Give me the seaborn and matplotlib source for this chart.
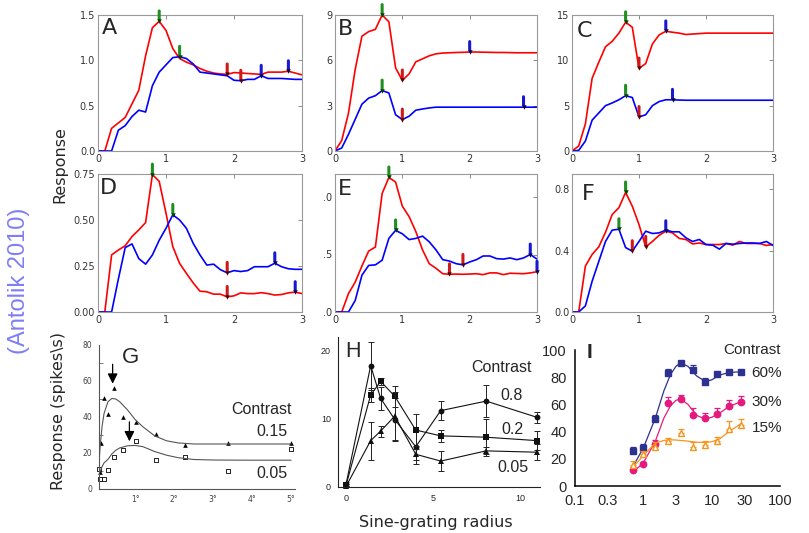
import numpy as np
import pandas as pd
import matplotlib
matplotlib.use('Agg')
import matplotlib.pyplot as plt
import seaborn as sns

# ---------------- model panels A-F (stimulus radius, 0..3 in steps of 0.1)
radius = np.round(np.linspace(0, 3, 31), 1)

A_red = [0, 0, 0.25, 0.31, 0.37, 0.52, 0.67, 1.05, 1.36, 1.43, 1.33, 1.13, 1.02, 0.98, 0.95, 0.91,
         0.88, 0.86, 0.85, 0.845, 0.865, 0.86, 0.855, 0.85, 0.845, 0.87, 0.87, 0.87, 0.88, 0.86, 0.84]
A_blue = [0, 0, 0, 0.23, 0.28, 0.38, 0.45, 0.43, 0.72, 0.87, 0.95, 1.03, 1.04, 1.02, 0.96, 0.87,
          0.86, 0.85, 0.84, 0.83, 0.78, 0.775, 0.79, 0.79, 0.83, 0.80, 0.80, 0.80, 0.795, 0.79, 0.79]
A_marks = [(0.9, 'red', 'g'), (1.2, 'blue', 'g'), (1.9, 'red', 'r'), (2.1, 'blue', 'r'),
           (2.4, 'blue', 'b'), (2.8, 'red', 'b')]

B_red = [0, 0.7, 2.5, 5.4, 7.6, 7.9, 8.05, 9.0, 8.55, 5.5, 4.67, 5.1, 5.9, 6.1, 6.3, 6.43,
         6.48, 6.5, 6.52, 6.53, 6.55, 6.55, 6.54, 6.53, 6.52, 6.52, 6.51, 6.5, 6.5, 6.5, 6.5]
B_blue = [0, 0.2, 1.1, 2.1, 3.1, 3.5, 3.66, 4.0, 3.84, 2.4, 2.08, 2.3, 2.7, 2.78, 2.85, 2.9,
          2.9, 2.9, 2.9, 2.9, 2.9, 2.9, 2.9, 2.9, 2.9, 2.9, 2.9, 2.9, 2.9, 2.9, 2.9]
B_marks = [(0.7, 'red', 'g'), (1.0, 'red', 'r'), (2.0, 'red', 'b'),
           (0.7, 'blue', 'g'), (1.0, 'blue', 'r'), (2.8, 'blue', 'b')]

C_red = [0, 0.55, 3.0, 8.0, 9.8, 11.5, 12.1, 13.0, 14.2, 13.65, 9.1, 9.65, 11.8, 12.8, 13.2, 13.1,
         13.0, 12.85, 12.9, 12.95, 13.0, 13.0, 13.0, 13.0, 13.0, 13.0, 13.0, 13.0, 13.0, 13.0, 13.0]
C_blue = [0, 0.07, 1.1, 3.4, 4.2, 5.0, 5.3, 5.65, 6.1, 5.9, 3.75, 4.0, 5.0, 5.45, 5.65, 5.65,
          5.62, 5.6, 5.6, 5.6, 5.6, 5.6, 5.6, 5.6, 5.6, 5.6, 5.6, 5.6, 5.6, 5.6, 5.6]
C_marks = [(0.8, 'red', 'g'), (1.0, 'red', 'r'), (1.4, 'red', 'b'),
           (0.8, 'blue', 'g'), (1.0, 'blue', 'r'), (1.5, 'blue', 'b')]

D_red = [0, 0, 0.31, 0.337, 0.36, 0.41, 0.446, 0.486, 0.747, 0.71, 0.537, 0.355, 0.264, 0.21, 0.158, 0.113,
         0.11, 0.097, 0.097, 0.082, 0.088, 0.104, 0.1, 0.1, 0.105, 0.1, 0.092, 0.095, 0.104, 0.108, 0.1]
D_blue = [0, 0, 0, 0.18, 0.35, 0.37, 0.29, 0.26, 0.31, 0.39, 0.455, 0.528, 0.5, 0.455, 0.373, 0.31,
          0.255, 0.26, 0.23, 0.213, 0.225, 0.22, 0.225, 0.246, 0.246, 0.246, 0.265, 0.246, 0.235, 0.232, 0.232]
D_marks = [(0.8, 'red', 'g'), (1.1, 'blue', 'g'), (1.9, 'blue', 'r'), (1.9, 'red', 'r'),
           (2.6, 'blue', 'b'), (2.9, 'red', 'b')]

E_red = [0, 0, 0.16, 0.26, 0.4, 0.53, 0.565, 1.03, 1.17, 1.13, 0.92, 0.83, 0.7, 0.54, 0.42, 0.38,
         0.333, 0.328, 0.33, 0.328, 0.33, 0.333, 0.325, 0.34, 0.34, 0.325, 0.337, 0.335, 0.333, 0.34, 0.35]
E_blue = [0, 0, 0, 0.1, 0.32, 0.405, 0.41, 0.45, 0.64, 0.71, 0.68, 0.63, 0.64, 0.66, 0.61, 0.54,
          0.455, 0.443, 0.42, 0.41, 0.435, 0.455, 0.487, 0.487, 0.464, 0.46, 0.47, 0.455, 0.47, 0.5, 0.46]
E_marks = [(0.8, 'red', 'g'), (0.9, 'blue', 'g'), (1.7, 'red', 'r'), (1.9, 'blue', 'r'),
           (2.9, 'blue', 'b'), (3.0, 'red', 'b')]

F_red = [0, 0, 0.3, 0.375, 0.425, 0.52, 0.636, 0.68, 0.78, 0.69, 0.57, 0.425, 0.46, 0.5, 0.527, 0.516,
         0.48, 0.473, 0.444, 0.45, 0.44, 0.44, 0.44, 0.447, 0.436, 0.46, 0.447, 0.447, 0.447, 0.434, 0.44]
F_blue = [0, 0, 0.04, 0.2, 0.33, 0.46, 0.534, 0.54, 0.42, 0.397, 0.46, 0.527, 0.512, 0.516, 0.534, 0.523,
          0.523, 0.484, 0.46, 0.473, 0.44, 0.436, 0.41, 0.447, 0.442, 0.447, 0.45, 0.45, 0.447, 0.46, 0.434]
F_marks = [(0.8, 'red', 'g'), (0.7, 'blue', 'g'), (0.9, 'blue', 'r'), (1.1, 'red', 'r'), (1.4, 'red', 'b')]

# ---------------- G: cat data (degrees)
G_tri_x = [0.1, 0.12, 0.19, 0.29, 0.46, 0.68, 1.01, 1.52, 2.27, 3.38, 5.0]
G_tri_y = [9.3, 25.7, 50.4, 41.9, 55.9, 40, 37, 30.4, 24.6, 25.7, 25.5]
G_sq_x = [0.07, 0.1, 0.19, 0.29, 0.46, 0.68, 1.01, 1.52, 2.27, 3.38, 5.0]
G_sq_y = [10.9, 5.4, 5.4, 10.6, 17.8, 21.5, 26.5, 16.3, 18, 9.8, 22]
G_fit_x = [0.07, 0.1, 0.15, 0.2, 0.3, 0.4, 0.5, 0.6, 0.8, 1.0, 1.2, 1.5, 1.8, 2.1, 2.5, 3.0, 4.0, 5.0]
G_fit_hi = [14, 24, 35, 42, 48.5, 50.3, 50, 48.5, 44, 38.5, 34.5, 29.5, 26.8, 25.6, 25, 25, 25, 25]
G_fit_lo = [8, 10, 12.5, 14.5, 16.5, 19.5, 21.5, 22.8, 24, 24.2, 23.5, 20.8, 18.8, 17.4, 16.4, 16.1, 16, 16]
G_arrow_x = [0.42, 0.85]
G_arrow_y = [58.5, 26.5]

# ---------------- H: sine-grating radius vs response, three contrasts
H_x = [0, 1.41, 1.98, 2.79, 3.99, 5.42, 8.02, 10.95]
H_08 = [0.4, 17.8, 13.0, 9.9, 5.9, 11.2, 12.6, 10.2]
H_08_err = [0.3, 3.5, 1.7, 3.2, 2.5, 1.4, 2.3, 0.8]
H_02 = [0.25, 13.5, 15.5, 13.3, 8.35, 7.5, 7.3, 6.8]
H_02_err = [0.2, 1.0, 0.5, 1.5, 2.3, 0.9, 2.7, 1.4]
H_005 = [0.1, 6.8, 8.2, 10.4, 4.8, 3.8, 5.3, 5.1]
H_005_err = [0.1, 2.8, 0.8, 3.5, 0.8, 1.5, 0.5, 1.2]

# ---------------- I: log-radius, three contrasts
I_x = [0.7, 1.0, 1.5, 2.3, 3.5, 5.3, 8, 12, 18, 27]
I_60 = [26, 28.2, 49, 82.8, 90.2, 85.3, 76.7, 82, 84, 84]
I_60_err = [3, 2.5, 3, 3.5, 1.5, 4, 2.5, 1.5, 1.5, 1.5]
I_30 = [11.8, 16, 30.6, 60.8, 63.7, 52.2, 49.8, 53, 58.8, 62]
I_30_err = [2, 2, 3, 4.5, 3, 5.5, 4, 4, 4.5, 4]
I_15 = [15.4, 23.3, 28.4, 33, 39.2, 29, 30.1, 33.3, 42, 45]
I_15_err = [3, 2.5, 4, 2, 3, 3, 3, 3, 6, 4.5]
I_fit_x = [0.7, 1.0, 1.5, 2.0, 2.5, 3.0, 3.5, 4.5, 6, 8, 10, 13, 18, 27]
I_fit_60 = [14, 28, 50, 70, 82, 88, 90.5, 88, 81, 77, 78, 81.5, 83.5, 84]
I_fit_30 = [10, 17, 33, 50, 59, 63, 64, 60, 52, 49.3, 50.5, 53.5, 58.5, 62]
I_fit_15 = [13.5, 22.5, 31.5, 33.5, 34, 33.8, 33.5, 33, 32.2, 32, 32.5, 34.5, 40, 46]

sns.set_style('white')
plt.rcParams['font.family'] = ['DejaVu Sans']

W, Hpx = 809, 533
fig = plt.figure(figsize=(8.09, 5.33), dpi=100)


def box(x0, y0, x1, y1):
    return [x0 / W, 1 - y1 / Hpx, (x1 - x0) / W, (y1 - y0) / Hpx]


def ftxt(x, y, s, **kw):
    fig.text(x / W, 1 - y / Hpx, s, **kw)


# bar colour, dark tip colour
mark_col = {'g': ('#1f8f1f', '#0a3a0a'), 'r': ('#d01818', '#4a0808'), 'b': ('#1818d0', '#08084a')}

model_panels = [
    ('A', A_red, A_blue, A_marks, 1.5, [0, 0.5, 1.0, 1.5], ['0.0', '0.5', '1.0', '1.5'], (98, 15, 302, 151), (102, 18)),
    ('B', B_red, B_blue, B_marks, 9, [0, 3, 6, 9], ['0', '3', '6', '9'], (335, 15, 537, 151), (338, 19)),
    ('C', C_red, C_blue, C_marks, 15, [0, 5, 10, 15], ['0', '5', '10', '15'], (572, 15, 773, 151), (577, 21)),
    ('D', D_red, D_blue, D_marks, 0.75, [0, 0.25, 0.5, 0.75], ['0.00', '0.25', '0.50', '0.75'], (98, 174, 302, 312), (100, 178)),
    ('E', E_red, E_blue, E_marks, 1.2, [0, 0.5, 1.0], ['.0', '.5', '.0'], (335, 174, 537, 312), (338, 179)),
    ('F', F_red, F_blue, F_marks, 0.9, [0, 0.4, 0.8], ['0.0', '0.4', '0.8'], (572, 174, 773, 312), (582, 184)),
]

for letter, red, blue, marks, ytop, yt, ytl, rect, lpos in model_panels:
    ax = fig.add_axes(box(*rect))
    sns.lineplot(x=radius, y=red, ax=ax, color='#ff0000', lw=1.2)
    sns.lineplot(x=radius, y=blue, ax=ax, color='#0000ff', lw=1.2)
    curves = {'red': red, 'blue': blue}
    for xm, which, c in marks:
        ym = curves[which][int(round(xm * 10))]
        bar_c, tip_c = mark_col[c]
        ax.annotate('', xy=(xm, ym), xytext=(0, 7.5), textcoords='offset points',
                    arrowprops=dict(arrowstyle='-', color=bar_c, lw=2.2, shrinkA=0, shrinkB=1.2),
                    annotation_clip=False)
        ax.plot([xm], [ym], marker='v', markersize=3.2, color=tip_c, markeredgewidth=0,
                clip_on=False, zorder=5)
    ax.set_xlim(0, 3)
    ax.set_ylim(0, ytop)
    ax.set_xticks([0, 1, 2, 3])
    ax.set_xticklabels(['0', '1', '2', '3'])
    ax.set_yticks(yt)
    ax.set_yticklabels(ytl)
    ax.tick_params(direction='in', length=3, width=0.6, color='#777777', labelcolor='#333333',
                   labelsize=7, top=True, right=True, pad=2)
    for sp in ax.spines.values():
        sp.set_color('#999999')
        sp.set_linewidth(0.8)
    ax.set_xlabel('')
    ax.set_ylabel('')
    ftxt(lpos[0], lpos[1], letter, fontsize=16, ha='left', va='top')

# ---------------- panel G
axg = fig.add_axes(box(99, 345, 295, 489))
sns.lineplot(x=G_fit_x, y=G_fit_hi, ax=axg, color='#555555', lw=0.8)
sns.lineplot(x=G_fit_x, y=G_fit_lo, ax=axg, color='#555555', lw=0.8)
sns.scatterplot(x=G_tri_x, y=G_tri_y, ax=axg, marker='^', color='black', s=11, linewidth=0, clip_on=False)
sns.scatterplot(x=G_sq_x, y=G_sq_y, ax=axg, marker='s', color='white', edgecolor='black', s=9,
                linewidth=0.6, clip_on=False)
for xa, ya in zip(G_arrow_x, G_arrow_y):
    axg.annotate('', xy=(xa, ya), xytext=(0, 14), textcoords='offset points',
                 arrowprops=dict(arrowstyle='-|>,head_length=0.6,head_width=0.3', color='black',
                                 lw=0.9, shrinkA=0, shrinkB=0))
axg.set_xlim(0.07, 5.1)
axg.set_ylim(0, 80)
axg.set_yticks([0, 20, 40, 60, 80])
axg.set_yticks([10, 30, 50, 70], minor=True)
axg.set_xticks([1, 2, 3, 4, 5])
axg.set_xticklabels(['1°', '2°', '3°', '4°', '5°'])
axg.tick_params(which='major', length=0, labelsize=5.5, labelcolor='#444444', pad=5)
axg.tick_params(axis='x', which='major', length=2, direction='in', color='#666666', pad=4)
axg.tick_params(which='minor', left=True, length=3, direction='in', width=0.6, color='#666666')
sns.despine(ax=axg)
for sp in ['left', 'bottom']:
    axg.spines[sp].set_color('#555555')
    axg.spines[sp].set_linewidth(0.8)

# ---------------- panel H
axh = fig.add_axes(box(338, 337, 540, 487))
for yv, ev, mk in [(H_08, H_08_err, 'o'), (H_02, H_02_err, 's'), (H_005, H_005_err, '^')]:
    axh.errorbar(H_x, yv, yerr=ev, fmt='none', ecolor='#222222', elinewidth=0.7, capsize=2,
                 capthick=0.7, clip_on=False)
    sns.lineplot(x=H_x, y=yv, ax=axh, color='#111111', lw=0.8, marker=mk, markersize=4.2,
                 markeredgewidth=0, clip_on=False)
axh.set_xlim(-0.46, 11.1)
axh.set_ylim(0, 22)
axh.set_xticks([0, 5, 10])
axh.set_yticks([0, 10, 20])
axh.tick_params(direction='out', length=3, width=0.7, labelsize=6.5, pad=2)
sns.despine(ax=axh)
for sp in ['left', 'bottom']:
    axh.spines[sp].set_linewidth(0.8)
    axh.spines[sp].set_color('#222222')
for lab in axh.get_xticklabels() + axh.get_yticklabels():
    lab.set_fontfamily('Liberation Sans')

# ---------------- panel I
axi = fig.add_axes(box(575, 350, 780, 486))
I_series = [(I_fit_60, I_60, I_60_err, '#2d3190', 's', '#2d3190'),
            (I_fit_30, I_30, I_30_err, '#e6197e', 'o', '#e6197e'),
            (I_fit_15, I_15, I_15_err, '#f7941d', '^', 'white')]
for fit, yv, ev, col, mk, face in I_series:
    sns.lineplot(x=I_fit_x, y=fit, ax=axi, color=col, lw=0.9)
    axi.errorbar(I_x, yv, yerr=[np.zeros(len(ev)), ev], fmt='none', ecolor=col, elinewidth=0.9,
                 capsize=2.5, capthick=0.9)
    axi.plot(I_x, yv, linestyle='none', marker=mk, markersize=4.6, markerfacecolor=face,
             markeredgecolor=col, markeredgewidth=1.0)
axi.set_xscale('log')
axi.set_xlim(0.1, 100)
axi.set_ylim(0, 100)
axi.set_xticks([0.1, 0.3, 1, 3, 10, 30, 100])
axi.set_xticklabels(['0.1', '0.3', '1', '3', '10', '30', '100'])
axi.minorticks_off()
axi.set_yticks([0, 20, 40, 60, 80, 100])
axi.tick_params(direction='out', length=4, width=1.1, labelsize=10.5, pad=2)
sns.despine(ax=axi)
for sp in ['left', 'bottom']:
    axi.spines[sp].set_linewidth(1.1)
    axi.spines[sp].set_color('black')
for lab in axi.get_xticklabels() + axi.get_yticklabels():
    lab.set_fontfamily('Liberation Sans')

# ---------------- texts
lib = dict(family='Liberation Sans')
ftxt(122, 347, 'G', fontsize=16, ha='left', va='top', **lib)
ftxt(262, 410, 'Contrast', fontsize=11.5, ha='center', va='center', **lib)
ftxt(272, 432, '0.15', fontsize=11.5, ha='center', va='center', **lib)
ftxt(272, 474, '0.05', fontsize=11.5, ha='center', va='center', **lib)

ftxt(345, 341, 'H', fontsize=15.5, ha='left', va='top', **lib)
ftxt(501, 368, 'Contrast', fontsize=11.5, ha='center', va='center', **lib)
ftxt(512, 395, '0.8', fontsize=11.5, ha='center', va='center', **lib)
ftxt(512, 429, '0.2', fontsize=11.5, ha='center', va='center', **lib)
ftxt(513, 467, '0.05', fontsize=11.5, ha='center', va='center', **lib)

ftxt(589, 352, 'I', fontsize=15, fontweight='bold', ha='center', va='center', **lib)
ftxt(752, 350, 'Contrast', fontsize=11, ha='center', va='center', **lib)
ftxt(767, 373, '60%', fontsize=11, ha='center', va='center', **lib)
ftxt(767, 402, '30%', fontsize=11, ha='center', va='center', **lib)
ftxt(767, 428, '15%', fontsize=11, ha='center', va='center', **lib)

ftxt(60, 165, 'Response', fontsize=11.5, rotation=90, ha='center', va='center')
ftxt(58, 411, r'Response (spikes\s)', fontsize=11.5, rotation=90, ha='center', va='center')
ftxt(436, 522, 'Sine-grating radius', fontsize=11.5, ha='center', va='center')
ftxt(19, 281, '(Antolik 2010)', fontsize=17, rotation=90, ha='center', va='center',
     color='#7f7ff5', **lib)

fig.savefig('out.png', dpi=100)
